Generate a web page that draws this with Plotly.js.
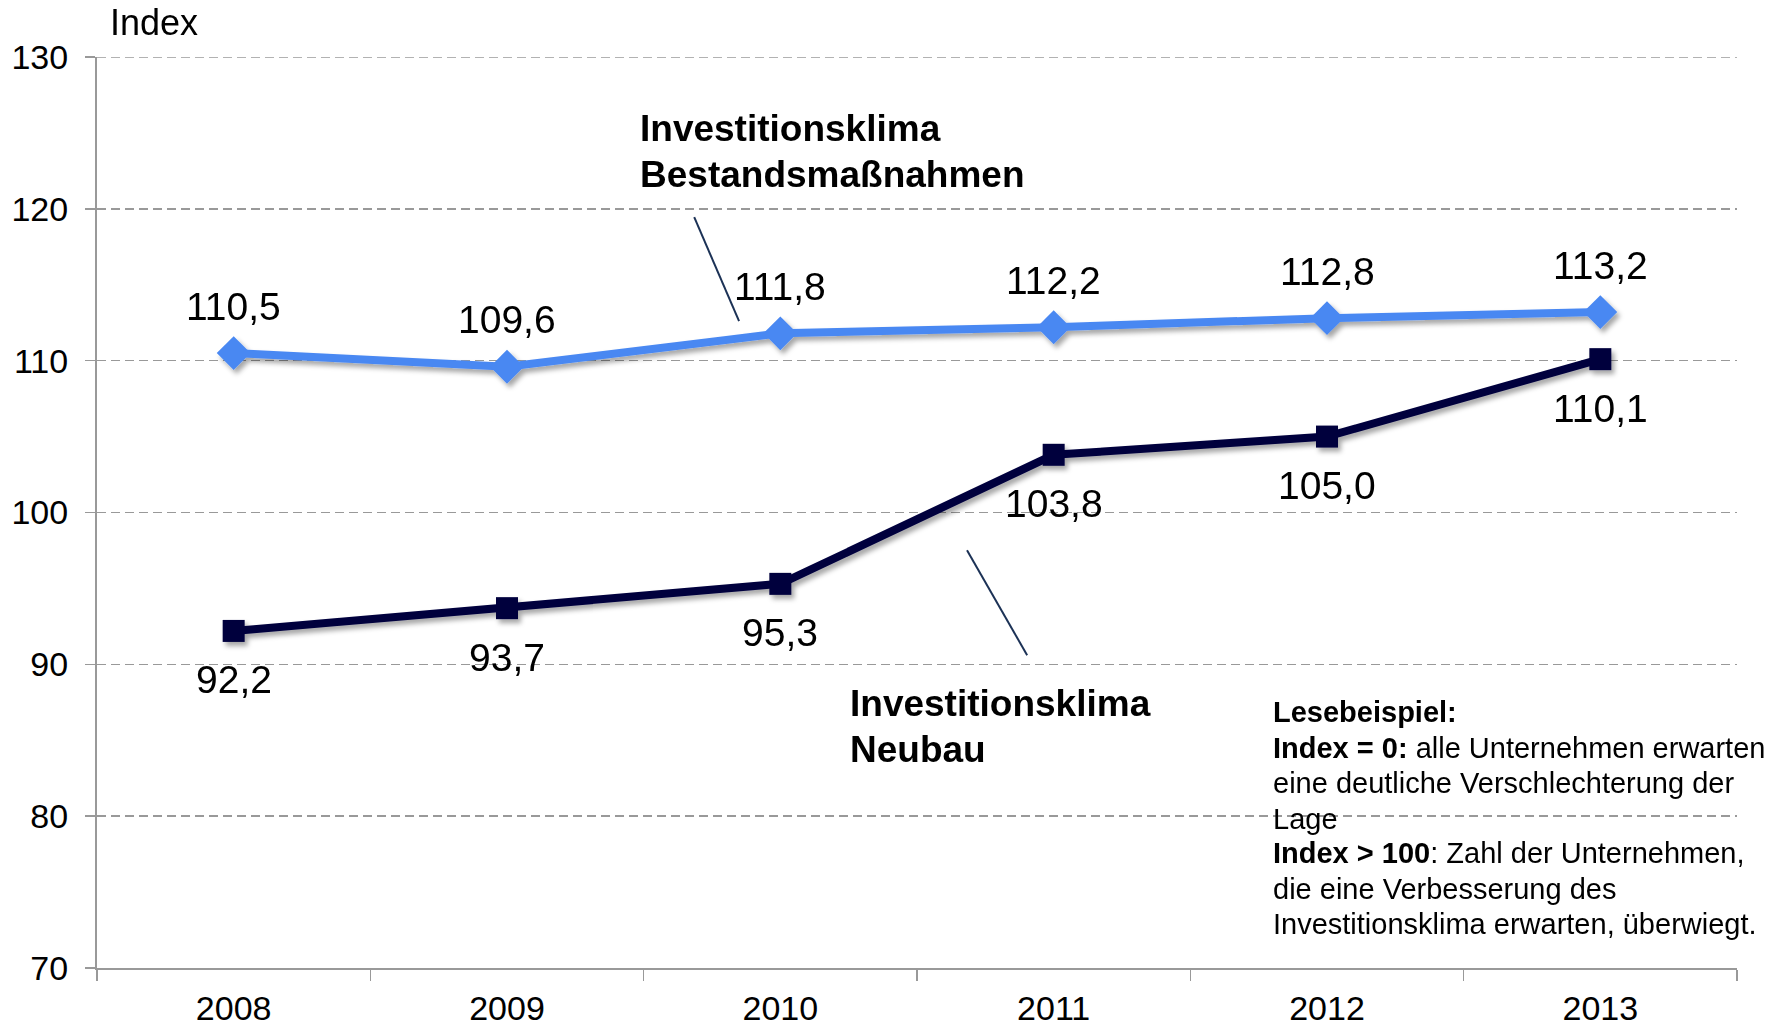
<!DOCTYPE html>
<html>
<head>
<meta charset="utf-8">
<script src="https://cdn.plot.ly/plotly-3.0.1.min.js"></script>
<style>
  html, body { margin: 0; padding: 0; background: #fff; }
  #chart { width: 1789px; height: 1027px; }
</style>
</head>
<body>
<div id="chart"></div>
<script>
// ---- data ----
const years = ["2008", "2009", "2010", "2011", "2012", "2013"];
const bestand = [110.5, 109.6, 111.8, 112.2, 112.8, 113.2];
const neubau = [92.2, 93.7, 95.3, 103.8, 105.0, 110.1];
const yTicks = [70, 80, 90, 100, 110, 120, 130];
const nameBestand = ["Investitionsklima", "Bestandsmaßnahmen"];
const nameNeubau = ["Investitionsklima", "Neubau"];
const noteLines = [
  "<b>Lesebeispiel:</b>",
  "<b>Index = 0:</b> alle Unternehmen erwarten",
  "eine deutliche Verschlechterung der",
  "Lage",
  "<b>Index &gt; 100</b>: Zahl der Unternehmen,",
  "die eine Verbesserung des",
  "Investitionsklima erwarten, überwiegt."
];

const FONT = "Liberation Sans, Arial, sans-serif";
const fmt = v => v.toFixed(1).replace(".", ",");

const data = [
  {
    x: years, y: bestand, type: "scatter", mode: "lines+markers",
    line: { color: "#4a88f2", width: 8 },
    marker: { symbol: "diamond", size: 26, color: "#4a88f2" },
    hoverinfo: "none"
  },
  {
    x: years, y: neubau, type: "scatter", mode: "lines+markers",
    line: { color: "#06063e", width: 8 },
    marker: { symbol: "square", size: 22, color: "#06063e" },
    hoverinfo: "none"
  }
];

const annotations = [];
years.forEach((yr, i) => {
  annotations.push({ xref: "x", yref: "y", x: i, y: bestand[i], text: fmt(bestand[i]), showarrow: false,
    yshift: 47, font: { family: FONT, size: 39, color: "#000" } });
  annotations.push({ xref: "x", yref: "y", x: i, y: neubau[i], text: fmt(neubau[i]), showarrow: false,
    yshift: -49, font: { family: FONT, size: 39, color: "#000" } });
});

// axis title "Index"
annotations.push({ xref: "paper", yref: "paper", x: 0.0065, y: 1.0384, xanchor: "left", yanchor: "middle",
  text: "Index", showarrow: false, font: { family: FONT, size: 36, color: "#000" } });

// series names
const bestandY = [125.26, 122.23];
nameBestand.forEach((t, k) => annotations.push({ x: 1.479, y: bestandY[k], xanchor: "left", yanchor: "middle",
  text: "<b>" + t + "</b>", showarrow: false, font: { family: FONT, size: 37, color: "#000" } }));
const neubauY = [87.39, 84.36];
nameNeubau.forEach((t, k) => annotations.push({ x: 2.247, y: neubauY[k], xanchor: "left", yanchor: "middle",
  text: "<b>" + t + "</b>", showarrow: false, font: { family: FONT, size: 37, color: "#000" } }));

// note block
const noteY = [86.86, 84.47, 82.17, 79.80, 77.55, 75.18, 72.88];
noteLines.forEach((t, k) => annotations.push({ x: 3.794, y: noteY[k], xanchor: "left", yanchor: "middle",
  text: t, showarrow: false, font: { family: FONT, size: 29, color: "#000" } }));

const shapes = [
  { type: "line", xref: "x", yref: "y", x0: 1.685, y0: 119.45, x1: 1.849, y1: 112.6,
    line: { color: "#1c3256", width: 2 } },
  { type: "line", xref: "x", yref: "y", x0: 2.683, y0: 97.52, x1: 2.903, y1: 90.6,
    line: { color: "#1c3256", width: 2 } },
  // top gridline at 130 (Plotly drops grid lines on the range edge)
  { type: "line", xref: "paper", yref: "y", x0: 0, x1: 1, y0: 130, y1: 130, layer: "below",
    line: { color: "#999", width: 1.6, dash: "9px,5px" } }
];

const layout = {
  width: 1789, height: 1027,
  margin: { l: 97, r: 52, t: 57, b: 59, pad: 0 },
  paper_bgcolor: "#fff", plot_bgcolor: "#fff",
  showlegend: false,
  font: { family: FONT, color: "#000" },
  xaxis: {
    type: "category", range: [-0.5, 5.5], tickson: "boundaries",
    ticks: "outside", ticklen: 11, tickwidth: 1.5, tickcolor: "#999",
    showline: true, linecolor: "#999", linewidth: 2,
    showgrid: false, zeroline: false,
    tickfont: { family: FONT, size: 34, color: "#000" },
    ticklabelstandoff: 9,
    fixedrange: true
  },
  yaxis: {
    range: [70, 130], tickvals: yTicks, ticktext: yTicks.map(String),
    ticks: "outside", ticklen: 10, tickwidth: 1.5, tickcolor: "#999",
    showline: true, linecolor: "#999", linewidth: 2,
    showgrid: true, gridcolor: "#999", gridwidth: 1.6, griddash: "9px,5px",
    zeroline: false,
    tickfont: { family: FONT, size: 34, color: "#000" },
    ticklabelstandoff: 10,
    fixedrange: true
  },
  annotations: annotations,
  shapes: shapes
};

Plotly.newPlot("chart", data, layout, { staticPlot: true, displayModeBar: false }).then(gd => {
  const ns = "http://www.w3.org/2000/svg";
  const svg = gd.querySelector(".main-svg");
  let defs = svg.querySelector("defs");
  if (!defs) { defs = document.createElementNS(ns, "defs"); svg.insertBefore(defs, svg.firstChild); }
  const f = document.createElementNS(ns, "filter");
  f.setAttribute("id", "dshadow");
  f.setAttribute("filterUnits", "userSpaceOnUse");
  f.setAttribute("x", "-300"); f.setAttribute("y", "-300");
  f.setAttribute("width", "2400"); f.setAttribute("height", "1700");
  const fe = document.createElementNS(ns, "feDropShadow");
  fe.setAttribute("dx", "3"); fe.setAttribute("dy", "4");
  fe.setAttribute("stdDeviation", "2.5");
  fe.setAttribute("flood-color", "#000"); fe.setAttribute("flood-opacity", "0.35");
  f.appendChild(fe); defs.appendChild(f);
  gd.querySelectorAll(".scatterlayer .trace").forEach(t => t.setAttribute("filter", "url(#dshadow)"));
});
</script>
</body>
</html>
